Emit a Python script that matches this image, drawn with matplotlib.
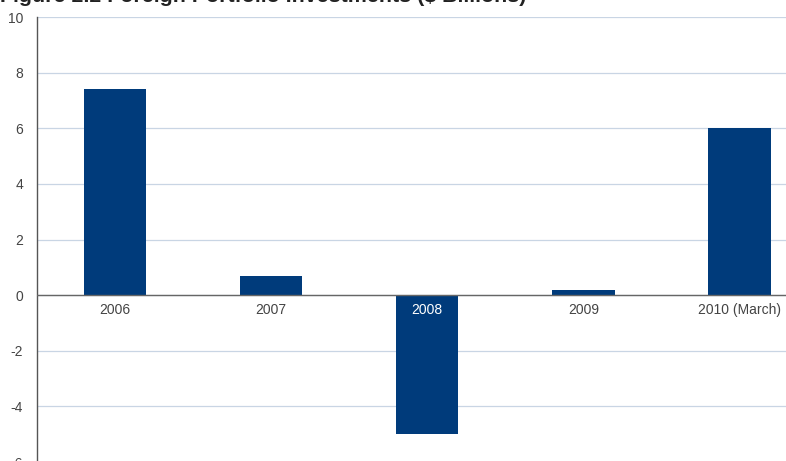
import numpy as np
import matplotlib.pyplot as plt

plt.rcParams['font.family'] = ['Liberation Sans', 'DejaVu Sans']
plt.rcParams['axes.unicode_minus'] = False

# Foreign portfolio investments, $ billions
years = ['2006', '2007', '2008', '2009', '2010 (March)']
investments = [7.4, 0.7, -5.0, 0.2, 6.0]

bar_color = '#003b7b'
grid_color = '#c9d5e4'
text_color = '#444444'

fig = plt.figure(figsize=(7.86, 4.61), dpi=100)
ax = fig.add_axes([0.047, -0.0022, 0.993, 0.9653])

x = np.arange(len(years))
ax.bar(x, investments, 0.4, color=bar_color, zorder=2)

ax.set_xlim(-0.5, len(years) - 0.5)
ax.set_ylim(-6, 10)
ax.set_yticks(np.arange(-6, 11, 2))
ax.set_xticks([])
ax.yaxis.grid(True, color=grid_color, linewidth=0.9, zorder=0)
ax.tick_params(axis='y', length=0, pad=10, labelsize=10, labelcolor=text_color)

for side in ['top', 'right', 'bottom']:
    ax.spines[side].set_visible(False)
ax.spines['left'].set_color('#555555')
ax.spines['left'].set_linewidth(1.0)
ax.axhline(0, color='#666666', linewidth=1.0, zorder=3)

# year labels sit just under the zero line, white where they fall on a bar
for xi, label, val in zip(x, years, investments):
    color = 'white' if val < -0.6 else text_color
    ax.text(xi, -0.54, label, ha='center', va='center', fontsize=10,
            color=color, zorder=4)

fig.text(0.0, 0.995, 'Figure 2.2 Foreign Portfolio Investments ($ Billions)',
         fontsize=15.4, fontweight='bold', color='#222222', va='baseline', ha='left')

fig.savefig('out.png', dpi=100)
